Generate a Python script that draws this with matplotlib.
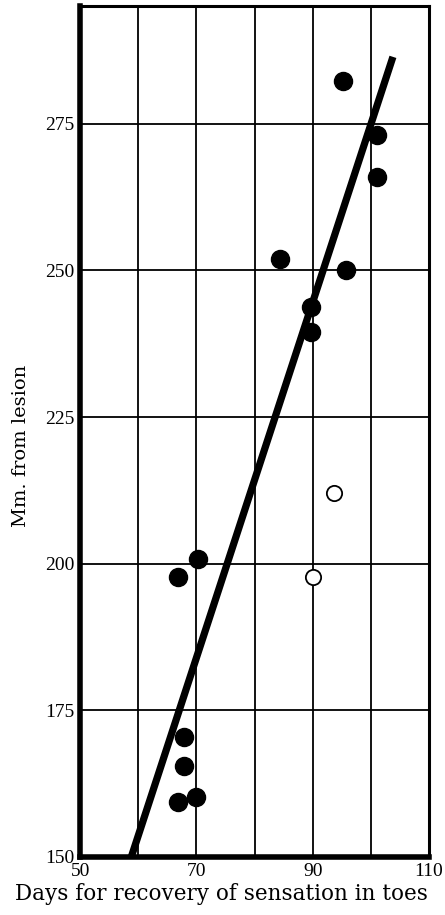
import numpy as np
import matplotlib.pyplot as plt

# recovered (filled) points: days vs mm from lesion
days_filled = [95.2, 101.0, 101.0, 84.4, 95.7, 89.7, 89.7, 70.2, 66.8, 67.8, 67.8, 66.9, 70.0]
mm_filled = [282.3, 273.0, 266.0, 252.0, 250.0, 243.8, 239.5, 200.8, 197.8, 170.5, 165.5, 159.4, 160.2]

# open points
days_open = [93.6, 90.0]
mm_open = [212.0, 197.8]

# fitted line end points
line_days = [58.8, 103.8]
line_mm = [150.0, 286.4]

x_ticks = [50, 70, 90, 110]
y_ticks = [150, 175, 200, 225, 250, 275]


def main():
    plt.rcParams['font.family'] = ['Liberation Serif', 'DejaVu Serif']
    fig = plt.figure(figsize=(4.45, 9.15), dpi=100)
    ax = fig.add_axes([0.180, 0.0634, 0.784, 0.9296])

    ax.set_xlim(50, 110)
    ax.set_ylim(150, 295)

    # grid
    for gx in range(60, 110, 10):
        ax.axvline(gx, color='black', lw=1.3, zorder=1)
    for gy in range(175, 295, 25):
        ax.axhline(gy, color='black', lw=1.3, zorder=1)

    ax.plot(line_days, line_mm, color='black', lw=5.2,
            solid_capstyle='butt', zorder=2)
    ax.plot(days_filled, mm_filled, 'o', color='black', ms=13, zorder=3)
    ax.plot(days_open, mm_open, 'o', mfc='white', mec='black', mew=1.3,
            ms=11, zorder=3)

    ax.set_xticks(x_ticks)
    ax.set_yticks(y_ticks)
    ax.tick_params(axis='both', length=0, labelsize=14, pad=4)
    ax.set_xlabel('Days for recovery of sensation in toes',
                  family='DejaVu Serif', fontsize=15.5)
    ax.xaxis.set_label_coords(0.405, -0.03)
    ax.set_ylabel('Mm. from lesion', family='DejaVu Serif', fontsize=14)
    ax.yaxis.set_label_coords(-0.145, 0.483)

    ax.spines['left'].set_linewidth(4)
    ax.spines['bottom'].set_linewidth(4)
    ax.spines['top'].set_linewidth(2.2)
    ax.spines['right'].set_linewidth(2.2)

    fig.savefig('out.png', dpi=100)


if __name__ == '__main__':
    main()
